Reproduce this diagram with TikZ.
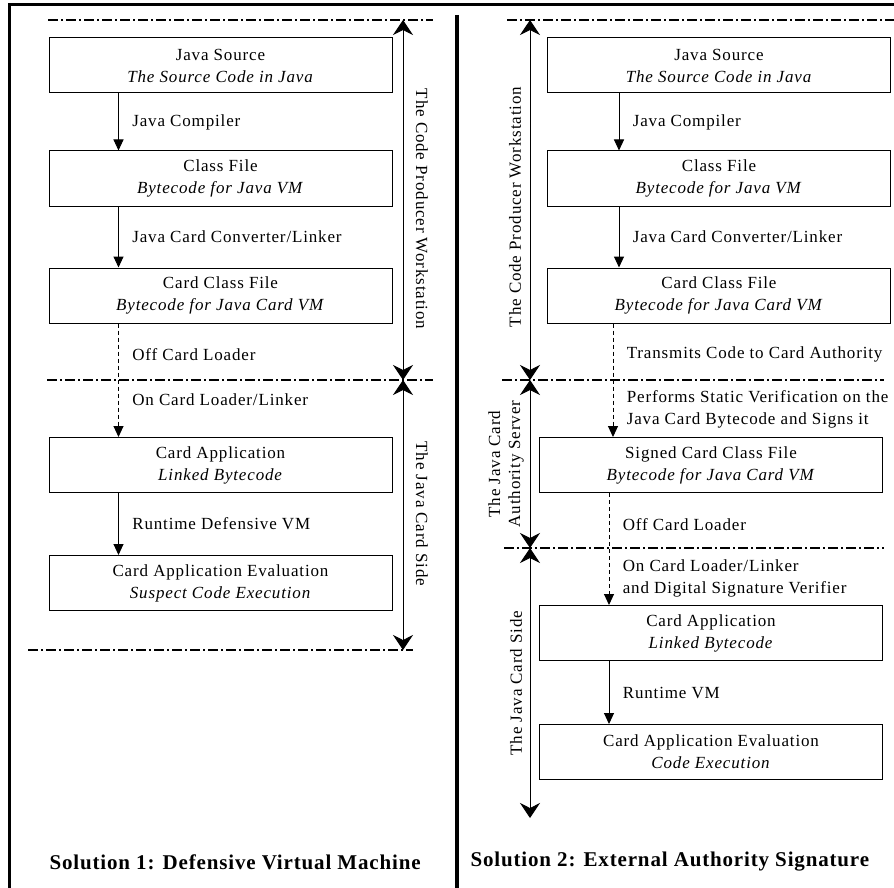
\documentclass[tikz,border=0pt]{standalone}
\usepackage{fontspec}
\setmainfont{Liberation Serif}[LetterSpace=5]
\newfontfamily\capfont{Liberation Serif}[LetterSpace=4]
\usetikzlibrary{arrows.meta}
\tikzset{
  box/.style={draw, line width=1pt, minimum width=343pt, minimum height=55pt,
              align=center, inner sep=0pt, font=\fontsize{17}{22}\selectfont},
  flow/.style={-{Triangle[width=10pt,length=11pt]}, line width=1pt},
  load/.style={flow, dash pattern=on 4pt off 3pt},
  lbl/.style={anchor=west, xshift=10pt, align=left, font=\fontsize{17}{22}\selectfont},
  sep/.style={line width=1.3pt, dash pattern=on 10pt off 3pt on 2pt off 3pt},
  span/.style={{Stealth[width=20pt,length=15pt,inset=5pt]}-{Stealth[width=20pt,length=15pt,inset=5pt]},
               line width=1pt},
  side/.style={font=\fontsize{17}{20}\selectfont, align=center},
  frame/.style={line width=3pt},
  caption/.style={anchor=west, font=\capfont\bfseries\fontsize{21}{24}\selectfont}
}
\begin{document}
\begin{tikzpicture}[x=1pt,y=-1pt]
  \useasboundingbox (0,0) rectangle (894,888);
  % Draw frame
  \draw[frame] (8,5) -- (894,5);
  \draw[frame] (9,5) -- (9,888);
  \draw[line width=4pt] (457,15) -- (457,888);
  % Draw separators
  \draw[sep] (48,20) -- (433,20);
  \draw[sep] (47,380) -- (433,380);
  \draw[sep] (28,650) -- (413,650);
  \draw[sep] (507,20) -- (894,20);
  \draw[sep] (502,380) -- (884,380);
  \draw[sep] (504,548) -- (884,548);
  % Solution 1 boxes
  \node[box] (L1) at (220.5,65.5) {Java Source\\\textit{The Source Code in Java}};
  \node[box] (L2) at (220.5,178.5) {Class File\\\textit{Bytecode for Java VM}};
  \node[box] (L3) at (220.5,295.5) {Card Class File\\\textit{Bytecode for Java Card VM}};
  \node[box] (L4) at (220.5,465) {Card Application\\\textit{Linked Bytecode}};
  \node[box] (L5) at (220.5,583) {Card Application Evaluation\\\textit{Suspect Code Execution}};
  % Solution 1 steps
  \draw[flow] ([xshift=70pt]L1.south west) -- node[lbl] {Java Compiler}
        ([xshift=70pt]L2.north west);
  \draw[flow] ([xshift=70pt]L2.south west) -- node[lbl] {Java Card Converter/Linker}
        ([xshift=70pt]L3.north west);
  \draw[load] ([xshift=70pt]L3.south west) -- node[lbl, pos=0.27] {Off Card Loader}
        node[lbl, pos=0.67] {On Card Loader/Linker} ([xshift=70pt]L4.north west);
  \draw[flow] ([xshift=70pt]L4.south west) -- node[lbl] {Runtime Defensive VM}
        ([xshift=70pt]L5.north west);
  % Solution 1 sides
  \coordinate (ltop) at (403,20);
  \coordinate (lmid) at (403,380);
  \coordinate (lbot) at (403,650);
  \draw[span] (ltop) -- (lmid);
  \draw[span] (lmid) -- (lbot);
  \node[side, rotate=-90] (lws) at (422,209) {The Code Producer Workstation};
  \node[side, rotate=-90] (lcs) at (422,514) {The Java Card Side};
  \node[caption] (cap1) at (46,862) {Solution 1: Defensive Virtual Machine};
  % Solution 2 boxes
  \node[box] (R1) at (719,65.5) {Java Source\\\textit{The Source Code in Java}};
  \node[box] (R2) at (719,178.5) {Class File\\\textit{Bytecode for Java VM}};
  \node[box] (R3) at (719,295.5) {Card Class File\\\textit{Bytecode for Java Card VM}};
  \node[box] (R4) at (711,465) {Signed Card Class File\\\textit{Bytecode for Java Card VM}};
  \node[box] (R5) at (711,633) {Card Application\\\textit{Linked Bytecode}};
  \node[box] (R6) at (711,752) {Card Application Evaluation\\\textit{Code Execution}};
  % Solution 2 steps
  \draw[flow] ([xshift=72pt]R1.south west) -- node[lbl] {Java Compiler}
        ([xshift=72pt]R2.north west);
  \draw[flow] ([xshift=72pt]R2.south west) -- node[lbl] {Java Card Converter/Linker}
        ([xshift=72pt]R3.north west);
  \draw[load] ([xshift=66pt]R3.south west) -- node[lbl, pos=0.27] {Transmits Code to Card Authority}
        node[lbl, pos=0.76] {Performs Static Verification on the\\Java Card Bytecode and Signs it}
        ([xshift=74pt]R4.north west);
  \draw[load] ([xshift=70pt]R4.south west) -- node[lbl, pos=0.28] {Off Card Loader}
        node[lbl, pos=0.76] {On Card Loader/Linker\\and Digital Signature Verifier}
        ([xshift=70pt]R5.north west);
  \draw[flow] ([xshift=70pt]R5.south west) -- node[lbl] {Runtime VM}
        ([xshift=70pt]R6.north west);
  % Solution 2 sides
  \coordinate (rtop) at (530,20);
  \coordinate (rmid) at (530,380);
  \coordinate (rlow) at (530,548);
  \coordinate (rend) at (530,818);
  \draw[span] (rtop) -- (rmid);
  \draw[span] (rmid) -- (rlow);
  \draw[span] (rlow) -- (rend);
  \node[side, rotate=90] (rws) at (515,207) {The Code Producer Workstation};
  \node[side, rotate=90] (ras) at (506,464) {The Java Card\\Authority Server};
  \node[side, rotate=90] (rcs) at (516,683) {The Java Card Side};
  \node[caption] (cap2) at (467,862) {Solution 2: External Authority Signature};
\end{tikzpicture}
\end{document}
